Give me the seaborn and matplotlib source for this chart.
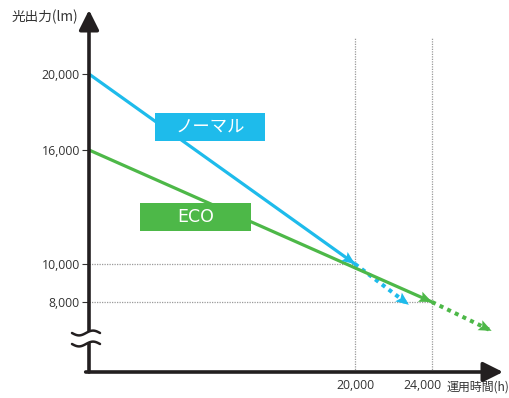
import numpy as np
import matplotlib
matplotlib.use("Agg")
import matplotlib.pyplot as plt
import seaborn as sns
from matplotlib.patches import Rectangle, Polygon
from matplotlib.transforms import IdentityTransform, ScaledTranslation

sns.set_theme(style="white")
plt.rcParams['font.family'] = ['Open Sans', 'Noto Sans CJK JP', 'DejaVu Sans']

# ---- data ----
normal_x = [0, 20000]
normal_y = [20000, 10000]
normal_ext_x = [20000, 22800]
normal_ext_y = [10000, 7850]
eco_x = [0, 24000]
eco_y = [16000, 8000]
eco_ext_x = [24000, 27100]
eco_ext_y = [8000, 6480]
y_ticks = [8000, 10000, 16000, 20000]
y_ticklabels = ["8,000", "10,000", "16,000", "20,000"]
x_ticks = [20000, 24000]
x_ticklabels = ["20,000", "24,000"]
series_names = ["ノーマル", "ECO"]
y_title = "光出力(lm)"
x_title = "運用時間(h)"

C_NORMAL = "#1EBBEB"
C_ECO = "#4DB848"
C_AXIS = "#231F20"
C_TEXT = "#333333"

W, H = 509, 398
fig = plt.figure(figsize=(W / 100, H / 100), dpi=100)
ax = fig.add_axes([89 / W, (H - 372) / H, (503 - 89) / W, (372 - 10) / H])

def fwd(x):
    x = np.asarray(x, dtype=float)
    return np.where(x <= 20000, x * 266 / 20000, 266 + (x - 20000) * 0.01925)

def inv(p):
    p = np.asarray(p, dtype=float)
    return np.where(p <= 266, p * 20000 / 266, 20000 + (p - 266) / 0.01925)

ax.set_xscale('function', functions=(fwd, inv))
ax.set_xlim(0, float(inv(414)))
ax.set_ylim(8000 - 70 / 19 * 1000, 8000 + 292 / 19 * 1000)

for s in ax.spines.values():
    s.set_visible(False)

# guide lines
gkw = dict(color="#9a9a9a", lw=0.9, ls=(0, (1, 1)), zorder=1)
ax.plot([0, 20000], [10000, 10000], **gkw)
ax.plot([0, 24000], [8000, 8000], **gkw)
ybot = ax.get_ylim()[0]
ax.plot([20000, 20000], [ybot, 21900], **gkw)
ax.plot([24000, 24000], [ybot, 21900], **gkw)

# lines
sns.lineplot(x=normal_x, y=normal_y, ax=ax, color=C_NORMAL, lw=2.3, zorder=3)
sns.lineplot(x=eco_x, y=eco_y, ax=ax, color=C_ECO, lw=2.3, zorder=3)
sns.lineplot(x=normal_ext_x, y=normal_ext_y, ax=ax, color=C_NORMAL, lw=2.9,
             linestyle=(0, (1.0, 1.1)), zorder=2)
sns.lineplot(x=eco_ext_x, y=eco_ext_y, ax=ax, color=C_ECO, lw=2.9,
             linestyle=(0, (1.0, 1.1)), zorder=2)

# ticks
ax.set_yticks(y_ticks)
ax.set_yticklabels(y_ticklabels)
ax.set_xticks(x_ticks)
ax.set_xticklabels(x_ticklabels)
ax.minorticks_off()
ax.tick_params(axis="y", length=5, width=0.8, color=C_TEXT, pad=1.5, labelsize=8.8,
               labelcolor=C_TEXT, left=True)
ax.tick_params(axis="x", length=0, pad=5, labelsize=8.8, labelcolor=C_TEXT)
lab24 = ax.get_xticklabels()[1]
lab24.set_transform(lab24.get_transform() + ScaledTranslation(-10 / 100, 0, fig.dpi_scale_trans))

fig.canvas.draw()

def head(xs, ys, color, L=13, hw=5.5):
    p0 = ax.transData.transform((xs[0], ys[0]))
    p1 = ax.transData.transform((xs[-1], ys[-1]))
    d = (p1 - p0) / np.hypot(*(p1 - p0))
    n = np.array([-d[1], d[0]])
    base = p1 - d * L
    pts = np.array([p1, base + n * hw, base + d * 2.5, base - n * hw])
    fig.patches.append(Polygon(pts, closed=True, facecolor=color, edgecolor="none",
                               transform=IdentityTransform(), zorder=5))

head(normal_x, normal_y, C_NORMAL)
head(eco_x, eco_y, C_ECO)
head(normal_ext_x, normal_ext_y, C_NORMAL)
head(eco_ext_x, eco_ext_y, C_ECO)

# axes with arrows
akw = dict(arrowstyle="-|>,head_length=0.8,head_width=0.4", mutation_scale=15,
           color=C_AXIS, lw=2.6, shrinkA=0, shrinkB=0)
ax.annotate("", xy=(0, 1.0), xytext=(0, 0), xycoords="axes fraction",
            arrowprops=akw, annotation_clip=False, zorder=6)
ax.annotate("", xy=(1.0, 0), xytext=(-0.008, 0), xycoords="axes fraction",
            arrowprops=akw, annotation_clip=False, zorder=6)

# axis break marks (figure pixel coordinates)
tf = fig.transFigure
xs = np.linspace(72, 100, 40)
def wave(c):
    return c + 2.4 * np.sin((xs - 72) / 28 * 2 * np.pi)
w1 = wave(333)
w2 = wave(344)
poly = np.column_stack([np.r_[xs, xs[::-1]], np.r_[w1, w2[::-1]]])
poly_fig = np.column_stack([poly[:, 0] / W, (H - poly[:, 1]) / H])
fig.patches.append(Polygon(poly_fig, closed=True, facecolor="white", edgecolor="none",
                           transform=tf, zorder=10))
for w in (w1, w2):
    fig.lines.append(plt.Line2D(xs / W, (H - w) / H, color=C_AXIS, lw=1.8,
                                transform=tf, zorder=11))

# series label boxes
def label_box(x0, y0, x1, y1, color, text, fs, fam):
    fig.patches.append(Rectangle((x0 / W, (H - y1) / H), (x1 - x0) / W, (y1 - y0) / H,
                                 facecolor=color, edgecolor="none", transform=tf, zorder=8))
    fig.text((x0 + x1) / 2 / W, (H - (y0 + y1) / 2) / H, text, color="white",
             fontsize=fs, ha="center", va="center", zorder=9, family=fam)

label_box(155, 113, 265, 141, C_NORMAL, series_names[0], 12.5, ['Noto Sans CJK JP', 'DejaVu Sans'])
label_box(140, 203, 251, 231, C_ECO, series_names[1], 12.5, ['DejaVu Sans'])

# titles
fig.text(12 / W, (H - 17) / H, y_title, fontsize=9.8, color=C_TEXT, ha="left", va="center",
         family=['Noto Sans CJK JP', 'DejaVu Sans'])
fig.text(447 / W, (H - 387) / H, x_title, fontsize=8.6, color=C_TEXT, ha="left", va="center",
         family=['Noto Sans CJK JP', 'DejaVu Sans'])

fig.savefig("out.png", dpi=100)
